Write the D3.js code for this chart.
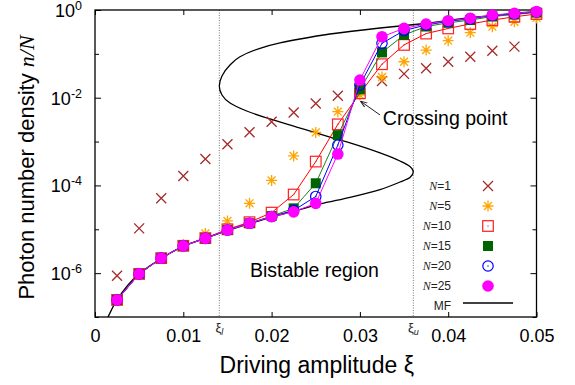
<!DOCTYPE html>
<html><head><meta charset="utf-8">
<script src="https://cdn.jsdelivr.net/npm/d3@7"></script>
<style>
html,body{margin:0;padding:0;background:#fff;}
svg text{font-family:"Liberation Sans",Arial,sans-serif;}
</style></head>
<body><svg id="c" width="575" height="385"></svg>
<script>
// ---- data ----
const xi = [0.0025,0.005,0.0075,0.01,0.0125,0.015,0.0175,0.02,0.0225,0.025,
            0.0275,0.03,0.0325,0.035,0.0375,0.04,0.0425,0.045,0.0475,0.05];
const nN1  = [8.7e-7,1.05e-5,5.1e-5,1.64e-4,4.0e-4,8.7e-4,1.63e-3,2.84e-3,4.6e-3,7.4e-3,
              1.11e-2,1.66e-2,2.4e-2,3.5e-2,4.7e-2,6.6e-2,8.6e-2,0.118,0.146];
const nN5  = [2.5e-7,1.0e-6,2.3e-6,4.5e-6,8.0e-6,1.55e-5,3.9e-5,1.3e-4,4.7e-4,1.62e-3,
              4.8e-3,1.15e-2,2.97e-2,6.6e-2,0.122,0.2,0.304,0.417,0.54,0.66];
const nN10 = [2.45e-7,9.6e-7,2.2e-6,4.2e-6,6.3e-6,1.0e-5,1.45e-5,2.4e-5,6.2e-5,3.5e-4,
              2.47e-3,1.26e-2,0.058,0.16,0.29,0.38,0.48,0.59,0.70,0.81];
const nN15 = [2.45e-7,9.6e-7,2.2e-6,4.2e-6,6.2e-6,9.6e-6,1.37e-5,2.0e-5,3.0e-5,1.12e-4,
              1.4e-3,1.55e-2,0.108,0.27,0.42,0.51,0.59,0.71,0.79,0.88];
const nN20 = [2.45e-7,9.6e-7,2.2e-6,4.2e-6,6.2e-6,9.6e-6,1.37e-5,1.95e-5,2.7e-5,5.6e-5,
              8.3e-4,1.95e-2,0.174,0.34,0.455,0.55,0.63,0.75,0.82,0.90];
const nN25 = [2.45e-7,9.6e-7,2.2e-6,4.2e-6,6.2e-6,9.6e-6,1.37e-5,1.95e-5,2.5e-5,3.9e-5,
              5.2e-4,2.53e-2,0.246,0.382,0.48,0.57,0.65,0.77,0.84,0.92];
// mean-field S-curve, from the top (upper branch) down to the bottom (lower branch)
const mfXi = [0.05006,0.04326,0.03681,0.03228,0.02661,0.02322,0.02095,0.01869,0.01642,0.01529,0.01438,0.01408,
              0.01438,0.01529,0.01718,0.01982,0.02284,0.02661,0.02888,0.03228,0.03454,0.03567,0.03605,
              0.03567,0.03454,0.03228,0.02888,0.02548,0.02284,0.0200,0.0175,0.0150,0.0125,0.0100,0.00753,0.00498,0.00249,0.00147,0.00102];
const mfLog = [-0.034,-0.160,-0.319,-0.410,-0.547,-0.661,-0.752,-0.873,-1.065,-1.254,-1.505,-1.733,
               -1.938,-2.120,-2.303,-2.485,-2.668,-2.896,-3.032,-3.260,-3.443,-3.568,-3.687,
               -3.819,-3.922,-4.093,-4.270,-4.423,-4.571,-4.72,-4.87,-5.03,-5.20,-5.39,-5.66,-6.02,-6.61,-7.0,-7.18];
const xiL = 0.01408, xiU = 0.03605;
const xTicks = [0,0.01,0.02,0.03,0.04,0.05];
const xTickLabels = ["0","0.01","0.02","0.03","0.04","0.05"];
const yMajor = [1e-6,1e-4,1e-2,1];
const yMajorExp = ["-6","-4","-2","0"];
const yMinor = [1e-7,1e-5,1e-3,1e-1];
const seriesNames = ["1","5","10","15","20","25"];

// ---- layout ----
const L=95, R=536.5, T=10, B=317;
const svg = d3.select("#c");
const x = d3.scaleLinear().domain([0,0.05]).range([L,R]);
const y = d3.scaleLog().domain([1e-7,1]).range([B,T]);

svg.append("defs").append("clipPath").attr("id","clip")
  .append("rect").attr("x",L).attr("y",T).attr("width",R-L).attr("height",B-T);
svg.select("defs").append("marker").attr("id","ah").attr("viewBox","0 0 10 10")
  .attr("refX",9).attr("refY",5).attr("markerWidth",7).attr("markerHeight",7)
  .attr("orient","auto").append("path").attr("d","M0,1.5 L10,5 L0,8.5").attr("fill","none").attr("stroke","#222").attr("stroke-width",1.4);

// dotted guide lines
[xiL,xiU].forEach(v=>{
  svg.append("line").attr("x1",x(v)).attr("x2",x(v)).attr("y1",T).attr("y2",B)
    .attr("stroke","#777").attr("stroke-width",1).attr("stroke-dasharray","1,1.5");
});

// axes (ticks inward)
const gB = svg.append("g").attr("transform",`translate(0,${B})`)
  .call(d3.axisBottom(x).tickValues(xTicks).tickSize(-5).tickPadding(12).tickFormat((d,i)=>xTickLabels[i]));
const gT = svg.append("g").attr("transform",`translate(0,${T})`)
  .call(d3.axisTop(x).tickValues(xTicks).tickSize(-5).tickFormat(""));
const gL = svg.append("g").attr("transform",`translate(${L},0)`)
  .call(d3.axisLeft(y).tickValues(yMajor).tickSize(-6).tickFormat(""));
const gLm = svg.append("g").attr("transform",`translate(${L},0)`)
  .call(d3.axisLeft(y).tickValues(yMinor).tickSize(-4).tickFormat(""));
const gR = svg.append("g").attr("transform",`translate(${R},0)`)
  .call(d3.axisRight(y).tickValues(yMajor).tickSize(-6).tickFormat(""));
const gRm = svg.append("g").attr("transform",`translate(${R},0)`)
  .call(d3.axisRight(y).tickValues(yMinor).tickSize(-4).tickFormat(""));
[gB,gT,gL,gLm,gR,gRm].forEach(g=>{
  g.select(".domain").remove();
  g.selectAll(".tick line").attr("stroke","#000").attr("stroke-width",1);
});
gB.selectAll(".tick text").attr("font-size",18).attr("fill","#000")
  .attr("font-family","Liberation Sans, Arial, sans-serif");

// y tick labels 10^k
yMajor.forEach((v,i)=>{
  const t = svg.append("text").attr("x",82).attr("y",y(v)+7).attr("text-anchor","end")
    .attr("font-size",18).attr("fill","#000");
  t.append("tspan").text("10");
  t.append("tspan").attr("dy",-7).attr("font-size",12.5).text(yMajorExp[i]);
});

// frame
svg.append("rect").attr("x",L).attr("y",T).attr("width",R-L).attr("height",B-T)
  .attr("fill","none").attr("stroke","#000").attr("stroke-width",1.3);

// MF curve
const plot = svg.append("g").attr("clip-path","url(#clip)");
const mf = mfXi.map((v,i)=>[v,Math.pow(10,mfLog[i])]);
plot.append("path").datum(mf)
  .attr("d",d3.line().x(d=>x(d[0])).y(d=>y(d[1])).curve(d3.curveMonotoneY))
  .attr("fill","none").attr("stroke","#000").attr("stroke-width",1.3);

// symbols
function sym(g,type,cx,cy,color){
  if(type==="cross"){
    const s=5;
    g.append("path").attr("d",`M${cx-s},${cy-s}L${cx+s},${cy+s}M${cx-s},${cy+s}L${cx+s},${cy-s}`)
      .attr("stroke",color).attr("stroke-width",1.3).attr("fill","none");
  } else if(type==="star"){
    const s=5.5, d=s*0.72;
    g.append("path").attr("d",`M${cx-s},${cy}L${cx+s},${cy}M${cx},${cy-s}L${cx},${cy+s}M${cx-d},${cy-d}L${cx+d},${cy+d}M${cx-d},${cy+d}L${cx+d},${cy-d}`)
      .attr("stroke",color).attr("stroke-width",1.3).attr("fill","none");
  } else if(type==="osq"){
    const s=5.3;
    g.append("rect").attr("x",cx-s).attr("y",cy-s).attr("width",2*s).attr("height",2*s)
      .attr("fill","none").attr("stroke",color).attr("stroke-width",1.2);
    g.append("rect").attr("x",cx-0.6).attr("y",cy-0.6).attr("width",1.2).attr("height",1.2).attr("fill",color);
  } else if(type==="fsq"){
    const s=5;
    g.append("rect").attr("x",cx-s).attr("y",cy-s).attr("width",2*s).attr("height",2*s).attr("fill",color);
  } else if(type==="ocirc"){
    g.append("circle").attr("cx",cx).attr("cy",cy).attr("r",5.2)
      .attr("fill","none").attr("stroke",color).attr("stroke-width",1.2);
    g.append("circle").attr("cx",cx).attr("cy",cy).attr("r",0.7).attr("fill",color);
  } else if(type==="fcirc"){
    g.append("circle").attr("cx",cx).attr("cy",cy).attr("r",5.8).attr("fill",color);
  }
}

const series = [
  {vals:nN1, type:"cross", color:"#a52a2a", line:false},
  {vals:nN5, type:"star",  color:"#ffa500", line:false},
  {vals:nN10,type:"osq",   color:"#ff2020", line:true, lc:"#ff0000"},
  {vals:nN15,type:"fsq",   color:"#006400", line:true, lc:"#1e7d1e"},
  {vals:nN20,type:"ocirc", color:"#0000ff", line:true, lc:"#0000ff"},
  {vals:nN25,type:"fcirc", color:"#ff00ff", line:true, lc:"#ff00ff"}
];
const pts = svg.append("g");
series.forEach(s=>{
  const g = pts.append("g");
  const data = s.vals.map((v,i)=>[xi[i],v]);
  if(s.line){
    g.append("path").datum(data).attr("d",d3.line().x(d=>x(d[0])).y(d=>y(d[1])))
      .attr("fill","none").attr("stroke",s.lc).attr("stroke-width",1);
  }
  data.forEach(d=>sym(g,s.type,x(d[0]),y(d[1]),s.color));
});

// annotations
svg.append("line").attr("x1",x(0.03228)).attr("y1",y(4.04e-3)).attr("x2",x(0.03012)).attr("y2",y(8.2e-3))
  .attr("stroke","#222").attr("stroke-width",1).attr("marker-end","url(#ah)");
svg.append("text").attr("x",x(0.0326)).attr("y",y(2.39e-3)).attr("font-size",19.5).attr("fill","#000").text("Crossing point");
svg.append("text").attr("x",x(0.01755)).attr("y",y(8.05e-7)).attr("font-size",19.5).attr("fill","#000").text("Bistable region");

// xi_l, xi_u labels
[[xiL,"l"],[xiU,"u"]].forEach(([v,s])=>{
  const t=svg.append("text").attr("x",x(v)).attr("y",332).attr("text-anchor","middle")
    .attr("font-size",13).attr("font-family","DejaVu Serif, serif").attr("fill","#222");
  t.append("tspan").text("ξ");
  t.append("tspan").attr("dy",3).attr("font-size",9).attr("font-style","italic").text(s);
});

// axis titles
const xt = svg.append("text").attr("x",(L+R)/2+1).attr("y",373).attr("text-anchor","middle")
  .attr("font-size",23).attr("fill","#000");
xt.append("tspan").text("Driving amplitude ξ");
const yt = svg.append("text").attr("transform",`translate(34,${(T+B)/2+4}) rotate(-90)`)
  .attr("text-anchor","middle").attr("font-size",22).attr("fill","#000");
yt.append("tspan").text("Photon number density ");
yt.append("tspan").attr("font-family","Liberation Serif, Times New Roman, serif").attr("font-style","italic").text("n/N");

// legend
seriesNames.forEach((nm,i)=>{
  const cy = 186 + i*20;
  const t = svg.append("text").attr("x",451).attr("y",cy+4).attr("text-anchor","end")
    .attr("font-size",12).attr("fill","#222");
  t.append("tspan").attr("font-family","Liberation Serif, Times New Roman, serif").attr("font-style","italic").text("N");
  t.append("tspan").text("="+nm);
  sym(svg,series[i].type,488,cy,series[i].color);
});
svg.append("text").attr("x",451).attr("y",310).attr("text-anchor","end").attr("font-size",12).attr("fill","#222").text("MF");
svg.append("line").attr("x1",463).attr("x2",513).attr("y1",303).attr("y2",303).attr("stroke","#000").attr("stroke-width",1.3);
</script></body></html>
